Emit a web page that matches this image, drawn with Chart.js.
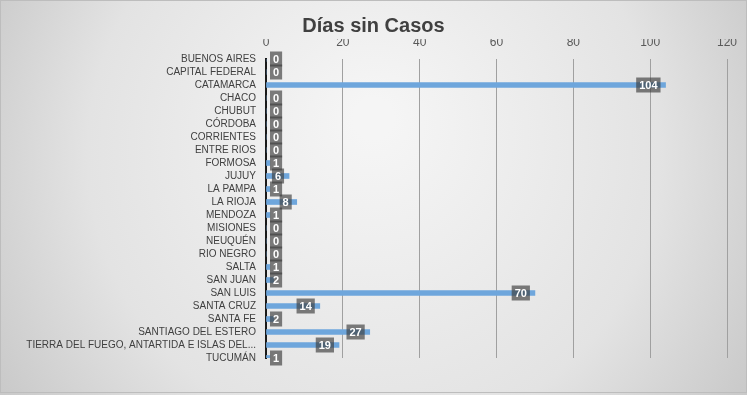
<!DOCTYPE html>
<html>
<head>
<meta charset="utf-8">
<script src="https://cdn.jsdelivr.net/npm/chart.js@4/dist/chart.umd.min.js"></script>
<style>
  html, body { margin: 0; padding: 0; background: #fff; }
  #wrap { width: 747px; height: 395px; position: relative; }
</style>
</head>
<body>
<div id="wrap"><canvas id="grafico" width="747" height="395"></canvas></div>
<script>
var provincias = [
  "BUENOS AIRES", "CAPITAL FEDERAL", "CATAMARCA", "CHACO", "CHUBUT", "CÓRDOBA",
  "CORRIENTES", "ENTRE RIOS", "FORMOSA", "JUJUY", "LA PAMPA", "LA RIOJA",
  "MENDOZA", "MISIONES", "NEUQUÉN", "RIO NEGRO", "SALTA", "SAN JUAN",
  "SAN LUIS", "SANTA CRUZ", "SANTA FE", "SANTIAGO DEL ESTERO",
  "TIERRA DEL FUEGO, ANTARTIDA E ISLAS DEL...", "TUCUMÁN"
];
var diasSinCasos = [0, 0, 104, 0, 0, 0, 0, 0, 1, 6, 1, 8, 1, 0, 0, 0, 1, 2, 70, 14, 2, 27, 19, 1];
var ticksX = [0, 20, 40, 60, 80, 100, 120];

var fuente = "'Liberation Sans', Arial, sans-serif";

// fondo con degradado gris como en Excel
var fondo = {
  id: "fondo",
  beforeDraw: function (chart) {
    var ctx = chart.ctx, w = chart.width, h = chart.height;
    ctx.save();
    var g = ctx.createRadialGradient(w * 0.5, h * 0.3, 20, w * 0.5, h * 0.45, w * 0.62);
    g.addColorStop(0, "#f5f5f5");
    g.addColorStop(0.6, "#e3e3e3");
    g.addColorStop(1, "#c4c4c4");
    ctx.fillStyle = g;
    ctx.fillRect(0, 0, w, h);
    ctx.strokeStyle = "#bdbdbd";
    ctx.lineWidth = 1;
    ctx.strokeRect(0.5, 0.5, w - 1, h - 3);
    ctx.restore();
  }
};

// etiquetas de datos en cajas grises
var etiquetas = {
  id: "etiquetas",
  afterDatasetsDraw: function (chart) {
    var ctx = chart.ctx;
    var meta = chart.getDatasetMeta(0);
    var left = chart.chartArea.left;
    ctx.save();
    ctx.font = "bold 11px " + fuente;
    ctx.textAlign = "center";
    ctx.textBaseline = "middle";
    meta.data.forEach(function (bar, i) {
      var txt = String(diasSinCasos[i]);
      var w = ctx.measureText(txt).width + 6;
      var h = 15;
      var right = Math.max(bar.x - 5, left + 4 + w);
      ctx.fillStyle = "rgba(60,60,60,0.66)";
      ctx.fillRect(right - w, bar.y - h / 2, w, h);
      ctx.fillStyle = "#ffffff";
      ctx.fillText(txt, right - w / 2, bar.y + 0.5);
    });
    ctx.restore();
  }
};

var ctx = document.getElementById("grafico").getContext("2d");
var myChart = new Chart(ctx, {
  type: "bar",
  data: {
    labels: provincias,
    datasets: [
      {
        label: "Días sin Casos",
        data: diasSinCasos,
        backgroundColor: "#6ea6dc",
        borderWidth: 0,
        barThickness: 5,
      },
    ],
  },
  options: {
    indexAxis: "y",
    responsive: false,
    animation: false,
    layout: { padding: { left: 20, right: 20, top: 0, bottom: 37 } },
    plugins: {
      legend: { display: false },
      tooltip: { enabled: false },
      title: {
        display: true,
        text: "Días sin Casos",
        color: "#404040",
        font: { family: fuente, size: 20, weight: "bold" },
        padding: { top: 14, bottom: 1 },
      },
    },
    scales: {
      x: {
        position: "top",
        min: 0,
        max: 120,
        afterBuildTicks: function (scale) {
          scale.ticks = ticksX.map(function (v) { return { value: v }; });
        },
        afterFit: function (scale) { scale.height = 20; },
        grid: { color: "#a0a0a0", lineWidth: 1, drawTicks: false },
        border: { display: false },
        ticks: { color: "#595959", font: { family: fuente, size: 12 }, padding: 9 },
      },
      y: {
        offset: false,
        afterFit: function (scale) { scale.width = 246; },
        grid: { display: false, drawTicks: false, offset: false },
        border: { color: "#1a1a1a", width: 2 },
        ticks: {
          color: "#404040",
          font: { family: fuente, size: 10 },
          padding: 10,
          autoSkip: false,
        },
      },
    },
  },
  plugins: [fondo, etiquetas],
});
</script>
</body>
</html>
